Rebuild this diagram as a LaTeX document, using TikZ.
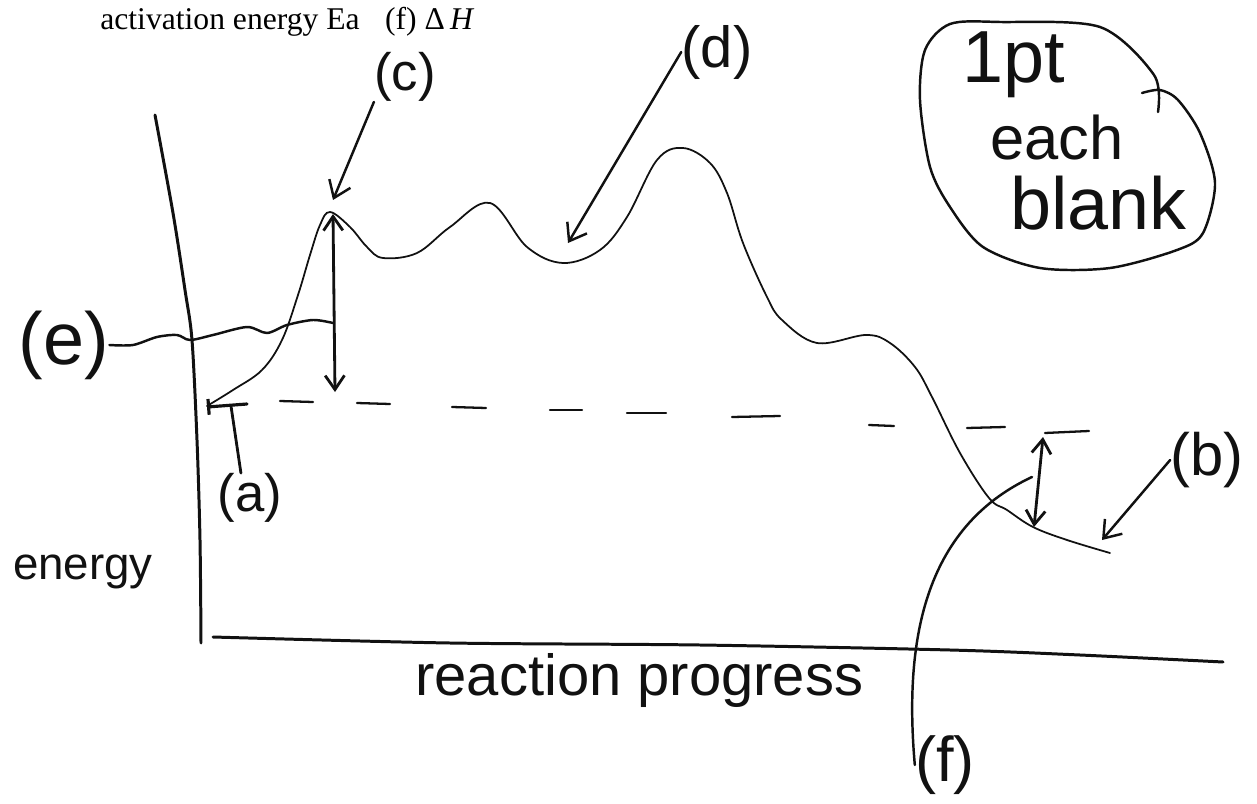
\documentclass[tikz,border=0pt]{standalone}
\usepackage{fontspec}
\setmainfont{Liberation Serif}
\newfontfamily\handfont{Liberation Sans}
\usetikzlibrary{arrows.meta,positioning}
\definecolor{tinta}{HTML}{111111}

\begin{document}
\begin{tikzpicture}[x=0.02cm,y=-0.02cm,
    hand/.style={tinta,line width=1.1pt,line cap=round,line join=round},
    axis/.style={tinta,line width=1.7pt,line cap=round},
    ptr/.style={hand,line width=1.4pt,-{Straight Barb[length=9pt,width=13pt]}},
    dptr/.style={hand,line width=1.6pt,{Straight Barb[length=8pt,width=11pt]}-{Straight Barb[length=8pt,width=11pt]}},
    lbl/.style={tinta,inner sep=0pt,font=\handfont\fontsize{30}{30}\selectfont}]
  \useasboundingbox (0,0) rectangle (1257,804);
  % printed line of the question
  \node[anchor=base west,inner sep=0pt,font=\fontsize{18}{18}\selectfont] (pregunta) at (100,30) {activation energy Ea\hspace{0.8em}(f) Δ\,\textit{H}};
  % axes
  \draw[axis] plot[smooth] coordinates {(155,115) (173,213) (185,290) (192,340) (197,440) (200,540) (201,643)};
  \draw[axis] plot[smooth] coordinates {(213,637) (450,643) (700,645) (950,650) (1080,655) (1223,662)};
  \node[lbl,font=\handfont\fontsize{26}{26}\selectfont] (energia) at (83,572) {energy};
  \node[lbl,anchor=base west,font=\handfont\fontsize{33}{33}\selectfont] (avance) at (415,695) {reaction progress};
  % energy profile
  \draw[hand,line width=1pt] plot[smooth,tension=0.6] coordinates {(207,406) (233,390) (262,370) (282,340) (298,295) (310,255) (320,225) (330,212) (350,227) (367,247) (383,258) (417,253) (450,227) (490,203) (527,247) (563,263) (600,250) (627,217) (657,160) (683,148) (710,163) (727,193) (743,243) (767,297) (782,320) (817,343) (866,335) (890,343) (915,367) (932,397) (960,453) (989,498) (1007,510) (1033,527) (1067,540) (1110,553)};
  % reactant level (dashed)
  \foreach \xa/\ya/\xb/\yb in {280/401/313/402, 357/403/390/404, 452/407/486/408, 550/410/582/410, 627/413/666/413, 732/417/780/416, 869/425/894/426, 967/428/1005/427, 1045/433/1089/431}
    \draw[hand,line width=1.3pt] (\xa,\ya) -- (\xb,\yb);
  % (a) marker
  \coordinate (tIzq) at (207,407);
  \coordinate (tDer) at (247,404);
  \coordinate (tPie) at (231,406);
  \draw[hand,line width=1.8pt,{Bar[width=9pt]}-] (tIzq) -- (tDer);
  \node[lbl] (a) at (250,498) {(a)};
  \draw[hand,line width=1.6pt] (a.110) -- (tPie);
  % Ea
  \coordinate (eaTop) at (333,214);
  \coordinate (eaBot) at (335,392);
  \coordinate (eaMid) at (333,323);
  \draw[dptr] (eaTop) -- (eaBot);
  \node[lbl,font=\handfont\fontsize{42}{42}\selectfont] (e) at (64,345) {(e)};
  \draw[hand,line width=1.4pt] plot[smooth] coordinates {(e.east) (133,345) (157,337) (177,335) (190,340) (213,335) (247,327) (267,333) (287,325) (313,320) (eaMid)};
  % (c) peak, (d) intermediate
  \coordinate (picoC) at (333,200);
  \node[lbl] (c) at (405,77) {(c)};
  \draw[ptr] (c.south west) -- (picoC);
  \coordinate (valleD) at (568,243);
  \node[lbl,font=\handfont\fontsize{33}{33}\selectfont] (d) at (717,52) {(d)};
  \draw[ptr] (d.west) -- (valleD);
  % products, (b), DeltaH, (f)
  \coordinate (prodB) at (1102,540);
  \node[lbl,font=\handfont\fontsize{34}{34}\selectfont] (b) at (1207,460) {(b)};
  \draw[ptr] (b.west) -- (prodB);
  \coordinate (dhTop) at (1043,437);
  \coordinate (dhBot) at (1034,527);
  \draw[dptr] (dhTop) -- (dhBot);
  \coordinate (fGancho) at (1032,477);
  \node[lbl,font=\handfont\fontsize{36}{36}\selectfont] (f) at (945,765) {(f)};
  \draw[hand,line width=1.4pt] (f.west) to[out=95,in=205] (fGancho);
  % side note
  \draw[hand,line width=1.4pt] plot[smooth] coordinates {(1158,112) (1154,75) (1100,27) (1000,22) (950,24) (925,50) (920,100) (930,167) (950,207) (983,247) (1040,268) (1110,268) (1177,250) (1203,233) (1215,183) (1200,133) (1178,100) (1160,90) (1142,93)};
  \node[lbl,anchor=base west,font=\handfont\fontsize{42}{42}\selectfont] (nota1) at (962,83) {1pt};
  \node[lbl,anchor=base west,font=\handfont\fontsize{35}{35}\selectfont] (nota2) at (990,160) {each};
  \node[lbl,anchor=base west,font=\handfont\fontsize{42}{42}\selectfont] (nota3) at (1010,230) {blank};
\end{tikzpicture}
\end{document}
